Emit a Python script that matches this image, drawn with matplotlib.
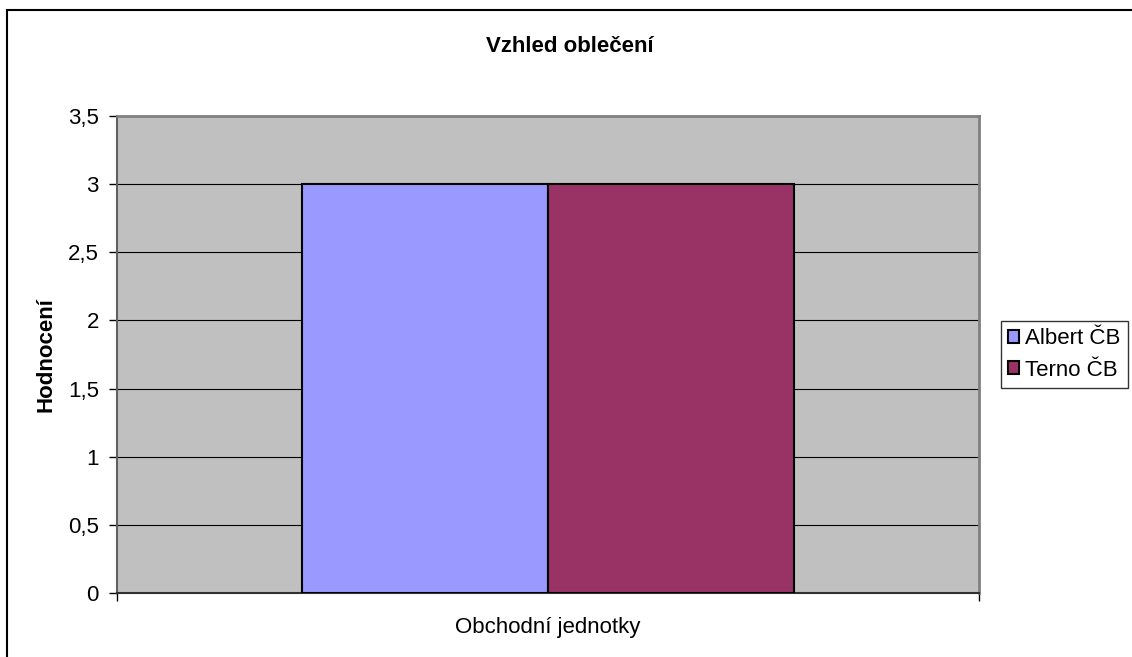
import matplotlib.pyplot as plt
from matplotlib.patches import Rectangle

plt.rcParams['font.family'] = ['Liberation Sans', 'DejaVu Sans']

# hodnocení vzhledu oblečení podle prodejny
stores = ['Albert ČB', 'Terno ČB']
ratings = [3, 3]
colors = ['#9999FF', '#993366']
category = 'Obchodní jednotky'
yticks = [0, 0.5, 1, 1.5, 2, 2.5, 3, 3.5]

fig = plt.figure(figsize=(11.32, 6.57), dpi=100)
ax = fig.add_axes([117 / 1132, 1 - 593 / 657, (979 - 117) / 1132, (593 - 116) / 657])
ax.set_facecolor('#C0C0C0')

bar_w = 1 / 3.5
for i, (name, val, c) in enumerate(zip(stores, ratings, colors)):
    ax.bar(-bar_w + i * bar_w, val, width=bar_w, align='edge', color=c,
           edgecolor='black', linewidth=1.5, label=name, zorder=3)

ax.set_xlim(-0.5, 0.5)
ax.set_ylim(0, 3.5)
ax.set_yticks(yticks)
ax.set_yticklabels([f'{t:g}'.replace('.', ',') for t in yticks], fontsize=16)
ax.yaxis.grid(True, color='black', linewidth=0.8, zorder=1)
ax.set_axisbelow(True)

ax.set_xticks([-0.5, 0.5])
ax.set_xticklabels([])
ax.tick_params(axis='both', direction='out', length=6, width=1, color='black')
ax.tick_params(axis='y', pad=7)

for side in ['top', 'right']:
    ax.spines[side].set_color('#808080')
    ax.spines[side].set_linewidth(2)
ax.spines['left'].set_color('#606060')
ax.spines['left'].set_linewidth(1.5)
ax.spines['bottom'].set_color('#303030')
ax.spines['bottom'].set_linewidth(1.5)

ax.set_xlabel(category, fontsize=16, labelpad=8)
ax.set_ylabel('Hodnocení', fontsize=16, fontweight='bold', labelpad=8)
fig.text(0.503, 1 - 46 / 657, 'Vzhled oblečení', ha='center', va='center',
         fontsize=16, fontweight='bold')

leg = ax.legend(loc='center left', bbox_to_anchor=(1.025, 0.5), fontsize=16,
                frameon=True, fancybox=False, edgecolor='black',
                handlelength=0.5, handleheight=0.5, handletextpad=0.25,
                borderpad=0.35, labelspacing=0.45, borderaxespad=0)
leg.get_frame().set_linewidth(1)

# rámeček celého grafu
fig.patches.append(Rectangle((7 / 1132, -0.1), 1.2, 1.1 - 10 / 657,
                             transform=fig.transFigure, fill=False,
                             edgecolor='black', linewidth=1.5))

fig.savefig('out.png', dpi=100)
